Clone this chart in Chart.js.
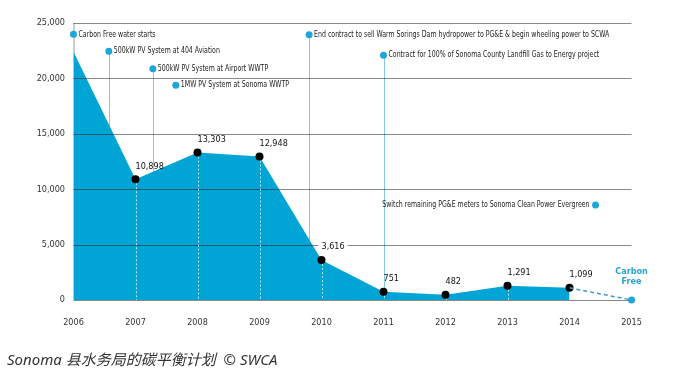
<!DOCTYPE html>
<html>
<head>
<meta charset="utf-8">
<script src="https://cdn.jsdelivr.net/npm/chart.js@4.4.1/dist/chart.umd.min.js"></script>
<style>
  html, body { margin: 0; padding: 0; background: #fff; }
  #wrap { position: relative; width: 694px; height: 373px; }
  #caption {
    position: absolute; left: 7px; top: 348px;
    font: italic 15px "Noto Sans", "Noto Sans CJK SC", sans-serif;
    color: #333; white-space: nowrap;
  }
</style>
</head>
<body>
<div id="wrap">
  <canvas id="chart" width="694" height="373"></canvas>
  <div id="caption">Sonoma 县水务局的碳平衡计划&nbsp; © SWCA</div>
</div>
<script>
// tonnes CO2 per year
const years = [2006, 2007, 2008, 2009, 2010, 2011, 2012, 2013, 2014];
const emissions = [22400, 10898, 13303, 12948, 3616, 751, 482, 1291, 1099];
const goalYears = [2014, 2015];
const goalValues = [1099, 0];
const yTicks = [0, 5000, 10000, 15000, 20000, 25000];
const xTicks = [2006, 2007, 2008, 2009, 2010, 2011, 2012, 2013, 2014, 2015];

// milestones: where the dot sits (x in years, y in chart units)
const eventLabels = [
  "Carbon Free water starts",
  "500kW PV System at 404 Aviation",
  "500kW PV System at Airport WWTP",
  "1MW PV System at Sonoma WWTP",
  "End contract to sell Warm Sorings Dam hydropower to PG&E & begin wheeling power to SCWA",
  "Contract for 100% of Sonoma County Landfill Gas to Energy project",
  "Switch remaining PG&E meters to Sonoma Clean Power Evergreen"
];
const eventX = [2006, 2006.57, 2007.28, 2007.65, 2009.8, 2011, 2014.42];
const eventY = [23980, 22450, 20880, 19380, 23950, 22090, 8570];
const eventHasLine = [false, true, true, false, true, true, false];
const eventTextLeft = [false, false, false, false, false, false, true];

const blue = "#00a5d6";
const dotBlue = "#1ea6da";
const narrow = '"Liberation Sans Narrow", "DejaVu Sans Condensed", sans-serif';

// squeezed text, the original uses a condensed face
function squeezed(ctx, txt, px, py, align, sx) {
  ctx.save();
  ctx.translate(px, py);
  ctx.scale(sx, 1);
  ctx.textAlign = align;
  ctx.fillText(txt, 0, 0);
  ctx.restore();
}

const drawExtras = {
  id: "extras",
  beforeDatasetsDraw(chart) {
    const { ctx, chartArea, scales: { x, y } } = chart;
    ctx.save();
    ctx.strokeStyle = "#9a9a9a";
    ctx.lineWidth = 1;
    ctx.beginPath();
    ctx.moveTo(chartArea.left + 0.5, y.getPixelForValue(25000));
    ctx.lineTo(chartArea.left + 0.5, y.getPixelForValue(0));
    ctx.stroke();
    // milestone drop lines (hidden under the area)
    ctx.strokeStyle = "#86c8e1";
    eventX.forEach((ex, i) => {
      if (!eventHasLine[i]) return;
      const px = Math.round(x.getPixelForValue(ex)) + 0.5;
      ctx.beginPath();
      ctx.moveTo(px, y.getPixelForValue(eventY[i]));
      ctx.lineTo(px, y.getPixelForValue(0));
      ctx.stroke();
    });
    ctx.restore();
  },
  afterDatasetDraw(chart, args) {
    if (args.index !== 0) return;
    const { ctx, chartArea, scales: { x, y } } = chart;
    ctx.save();
    ctx.strokeStyle = "rgba(20,20,20,0.5)";
    ctx.lineWidth = 1;
    yTicks.forEach(v => {
      const py = Math.round(y.getPixelForValue(v)) + 0.5;
      ctx.beginPath();
      ctx.moveTo(chartArea.left, py);
      ctx.lineTo(chartArea.right, py);
      ctx.stroke();
    });
    ctx.strokeStyle = "rgba(255,255,255,0.75)";
    ctx.setLineDash([2, 2]);
    years.forEach((yr, i) => {
      if (i === 0 || i === years.length - 1) return;
      const px = Math.round(x.getPixelForValue(yr)) + 0.5;
      ctx.beginPath();
      ctx.moveTo(px, y.getPixelForValue(emissions[i]));
      ctx.lineTo(px, y.getPixelForValue(0));
      ctx.stroke();
    });
    ctx.restore();
  },
  afterDatasetsDraw(chart) {
    const { ctx, scales: { x, y } } = chart;
    ctx.save();
    ctx.font = "9px " + narrow;
    ctx.textBaseline = "middle";
    ctx.textAlign = "left";
    const gridPx = yTicks.map(v => y.getPixelForValue(v));
    years.forEach((yr, i) => {
      if (i === 0) return;
      const txt = emissions[i].toLocaleString("en-US");
      const px = x.getPixelForValue(yr);
      const py = y.getPixelForValue(emissions[i]) - 13;
      const w = ctx.measureText(txt).width;
      // break a grid line running through the label
      if (gridPx.some(g => Math.abs(g - py) < 5)) {
        ctx.fillStyle = "#fff";
        ctx.fillRect(px - 3, py - 4, w + 6, 8);
      }
      ctx.fillStyle = "#111";
      ctx.fillText(txt, px, py);
    });
    ctx.font = "8.5px " + narrow;
    ctx.fillStyle = "#222";
    eventLabels.forEach((t, i) => {
      const px = x.getPixelForValue(eventX[i]);
      const py = y.getPixelForValue(eventY[i]);
      if (eventTextLeft[i]) squeezed(ctx, t, px - 6, py, "right", 0.815);
      else squeezed(ctx, t, px + 5, py, "left", 0.815);
    });
    ctx.font = "bold 9px " + narrow;
    ctx.fillStyle = "#2aa3d2";
    ctx.textAlign = "center";
    const gx = x.getPixelForValue(2015);
    ctx.fillText("Carbon", gx, 272);
    ctx.fillText("Free", gx, 282);
    ctx.restore();
  }
};

new Chart(document.getElementById("chart"), {
  type: "line",
  data: {
    datasets: [
      {
        label: "area",
        data: years.map((yr, i) => ({ x: yr, y: emissions[i] })),
        backgroundColor: blue,
        borderWidth: 0,
        fill: "origin",
        pointRadius: 0,
        tension: 0,
        order: 4
      },
      {
        label: "points",
        data: years.map((yr, i) => ({ x: yr, y: emissions[i] })),
        showLine: false,
        pointRadius: years.map((yr, i) => (i === 0 ? 0 : 4)),
        pointBackgroundColor: "#000",
        pointBorderWidth: 0,
        clip: false,
        order: 3
      },
      {
        label: "goal",
        data: goalYears.map((yr, i) => ({ x: yr, y: goalValues[i] })),
        borderColor: "#3a9fc8",
        borderWidth: 1.5,
        borderDash: [4, 3],
        fill: false,
        pointRadius: [0, 3.5],
        pointBackgroundColor: dotBlue,
        pointBorderWidth: 0,
        clip: false,
        order: 2
      },
      {
        label: "events",
        data: eventX.map((ex, i) => ({ x: ex, y: eventY[i] })),
        showLine: false,
        pointRadius: 3.5,
        pointBackgroundColor: dotBlue,
        pointBorderWidth: 0,
        clip: false,
        order: 1
      }
    ]
  },
  options: {
    responsive: false,
    animation: false,
    layout: { padding: { left: 0, right: 62.5, top: 23, bottom: 0 } },
    plugins: { legend: { display: false }, tooltip: { enabled: false } },
    scales: {
      x: {
        type: "linear",
        min: 2006,
        max: 2015,
        afterBuildTicks: s => { s.ticks = xTicks.map(v => ({ value: v })); },
        afterFit: s => { s.height = 73; },
        grid: { display: false, drawTicks: false },
        border: { display: false },
        ticks: {
          padding: 17,
          maxRotation: 0,
          autoSkip: false,
          color: "#333",
          font: { size: 9, family: narrow },
          callback: v => String(v)
        }
      },
      y: {
        min: 0,
        max: 25000,
        afterBuildTicks: s => { s.ticks = yTicks.map(v => ({ value: v })); },
        afterFit: s => { s.width = 73.5; },
        grid: { display: false, drawTicks: false },
        border: { display: false },
        ticks: {
          padding: 8.5,
          color: "#333",
          font: { size: 9, family: narrow },
          callback: v => v.toLocaleString("en-US")
        }
      }
    }
  },
  plugins: [drawExtras]
});
</script>
</body>
</html>
